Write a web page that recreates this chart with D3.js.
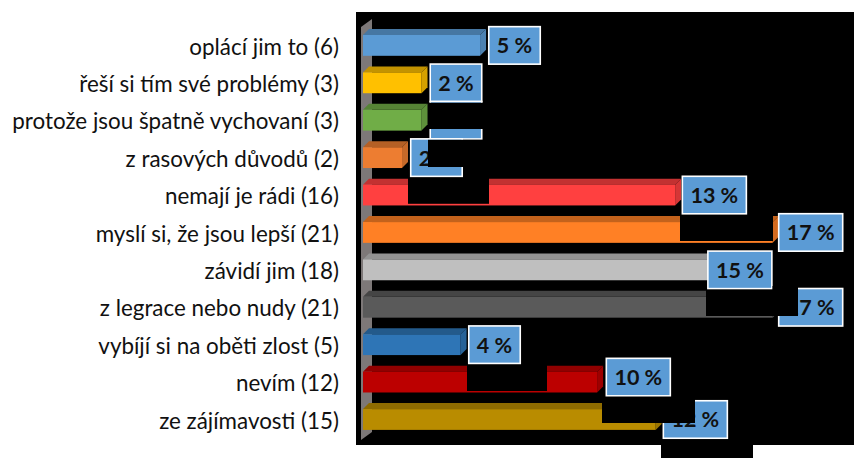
<!DOCTYPE html>
<html><head><meta charset="utf-8">
<script src="https://cdn.jsdelivr.net/npm/d3@7"></script>
<style>html,body{margin:0;padding:0;background:#fff;overflow:hidden}svg{display:block}</style>
</head><body><svg id="c" width="854" height="458"></svg>
<script>
const categories=["oplácí jim to (6)","řeší si tím své problémy (3)","protože jsou špatně vychovaní (3)","z rasových důvodů (2)","nemají je rádi (16)","myslí si, že jsou lepší (21)","závidí jim (18)","z legrace nebo nudy (21)","vybíjí si na oběti zlost (5)","nevím (12)","ze zájímavosti (15)"];
const counts=[6,3,3,2,16,21,18,21,5,12,15];
const percents=[5,2,2,2,13,17,15,17,4,10,12];
const barColors=["#5b9bd5","#ffc000","#70ad47","#ed7d31","#ff4040","#ff8025","#bfbfbf","#5a5a5a","#2e75b6","#bc0000","#b98c00"];

const svg=d3.select("#c");
const DX=6,DY=6,BAR=20.8;
const x=d3.scaleLinear().domain([0,21]).range([363,772.7]);
const y=d3.scaleBand().domain(categories).range([26.7,438.2]).paddingInner(0.445).paddingOuter(0.2225);
const rowY=d=>y(d)+y.bandwidth()/2-BAR/2;

svg.append("rect").attr("x",356).attr("y",12).attr("width",498).attr("height",433).attr("fill","#000");
svg.append("rect").attr("x",661).attr("y",445).attr("width",92).attr("height",13).attr("fill","#000");

svg.append("polygon").attr("points","361,27 372,19 372,432 361,440").attr("fill","#7d7878");

const rows=categories.map((c,i)=>({c,n:counts[i],p:percents[i],col:barColors[i]}));
const g=svg.append("g");
rows.forEach(r=>{
  const x0=x(0),x1=x(r.n),t=rowY(r.c),b=t+BAR;
  const col=d3.color(r.col);
  g.append("polygon").attr("points",[[x0,t],[x0+DX,t-DY],[x1+DX,t-DY],[x1,t]].join(" ")).attr("fill",col.darker(0.75));
  g.append("polygon").attr("points",[[x1,t],[x1+DX,t-DY],[x1+DX,b-DY],[x1,b]].join(" ")).attr("fill",col.darker(0.5));
  g.append("rect").attr("x",x0).attr("y",t).attr("width",x1-x0).attr("height",BAR).attr("fill",r.col);
});

const ax=svg.append("g").attr("transform","translate(339,2)").call(d3.axisLeft(y).tickSize(0).tickPadding(0));
ax.select(".domain").remove();
ax.selectAll("text").attr("font-family","Lato").attr("font-size",22.4).attr("fill","#111");

// data label placement relative to the end of each bar
const nudgeX=[8,8,8,8,6.5,5.3,-7,5.3,7.5,8.5,7];
const nudgeY=[0,0,0,0,0,0,0,0,0,-5,0];
const lg=svg.append("g");
rows.forEach((r,i)=>{
  const lh=37.5,w=r.p>=10?64:51.5;
  const lx=x(r.n)+nudgeX[i], cy=rowY(r.c)+BAR/2+nudgeY[i];
  lg.append("rect").attr("x",lx+.7).attr("y",cy-lh/2).attr("width",w).attr("height",lh)
    .attr("fill","#5b9bd5").attr("stroke","#fff").attr("stroke-width",1.6);
  lg.append("text").attr("x",lx+.7+w/2).attr("y",cy+8).attr("text-anchor","middle")
    .attr("font-family","Lato").attr("font-weight",700).attr("font-size",21.5).attr("fill","#111").text(r.p+" %");
});

// black masks that hide parts of the picture
const masks=[[428,102.8,55,26.2],[428,139.8,60,27.2],[408,177.8,81,26],[680,215.5,93,25.5],[706,289.8,92,26.2],[772.5,286,25.5,6],[467,365,80,26],[602,396.8,93,26.2]];
svg.append("g").selectAll("rect").data(masks).join("rect")
  .attr("x",d=>d[0]).attr("y",d=>d[1]).attr("width",d=>d[2]).attr("height",d=>d[3]).attr("fill","#000");
</script></body></html>
